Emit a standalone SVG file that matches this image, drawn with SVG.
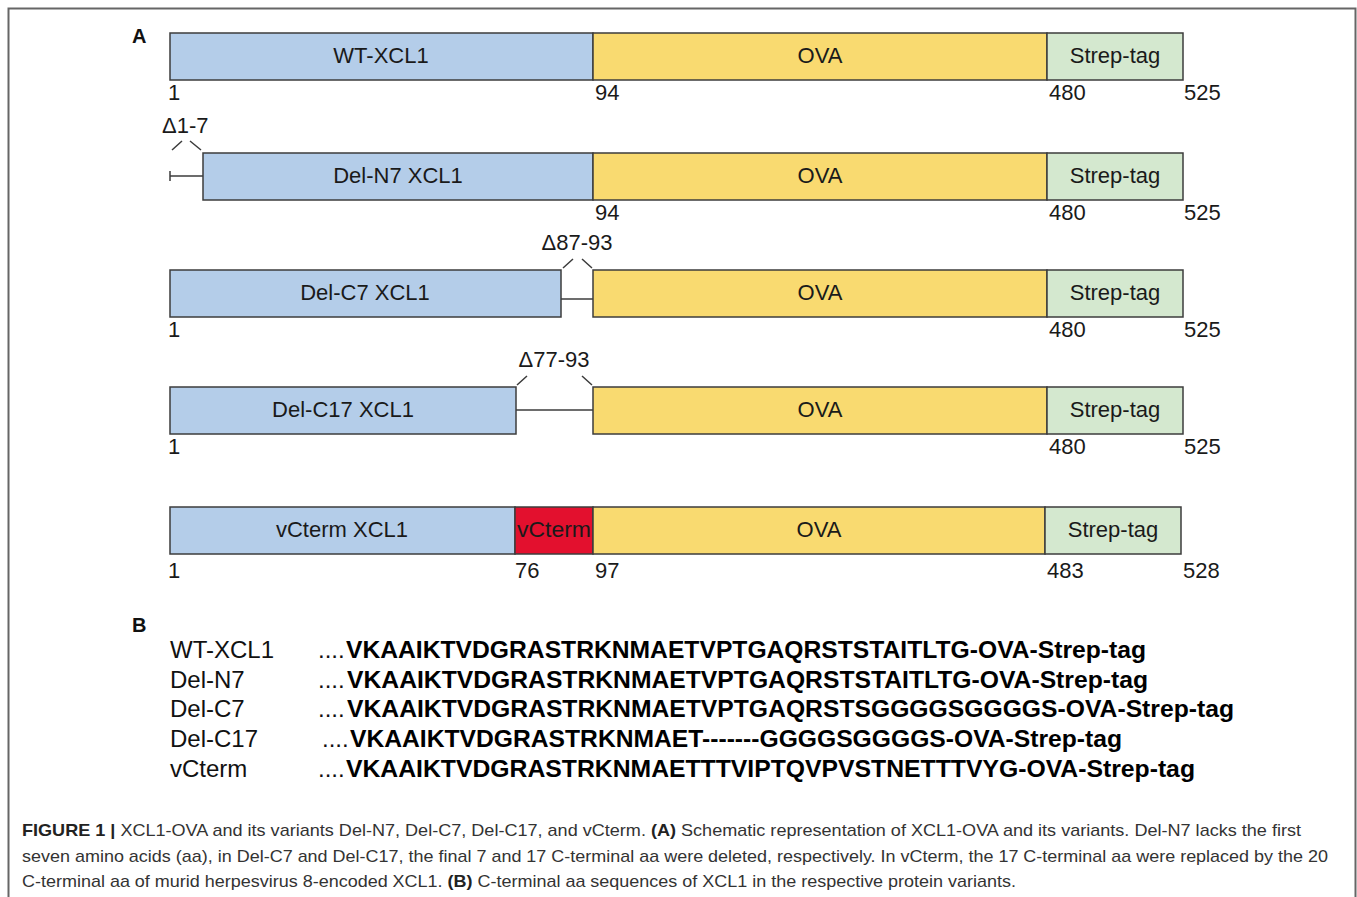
<svg xmlns="http://www.w3.org/2000/svg" width="1357" height="897" viewBox="0 0 1357 897">
<style>
.b{fill:#b4cde9;stroke:#3c3c3c;stroke-width:1.5}
.y{fill:#f9da70;stroke:#3c3c3c;stroke-width:1.5}
.g{fill:#d4e8cf;stroke:#3c3c3c;stroke-width:1.5}
.r{fill:#e3102e;stroke:#3c3c3c;stroke-width:1.5}
.t{font-family:"Liberation Sans",Arial,sans-serif;font-size:22px;fill:#1a1a1a}
.m{text-anchor:middle}
.ln{stroke:#3c3c3c;stroke-width:1.5;fill:none}
.h{font-family:"Liberation Sans",Arial,sans-serif;font-size:20px;font-weight:bold;fill:#111}
.n{font-family:"Liberation Sans",Arial,sans-serif;font-size:24px;fill:#111}
.s{font-family:"Liberation Sans",Arial,sans-serif;font-size:24px;font-weight:bold;fill:#000}
.c{font-family:"Liberation Sans",Arial,sans-serif;font-size:17px;fill:#333}
</style>
<rect x="0" y="0" width="1357" height="897" fill="#fff"/>
<path d="M8.5 897 V8.5 H1355.5 V897" fill="none" stroke="#666" stroke-width="2"/>
<text class="h" x="132" y="43">A</text>
<g id="wt">
<rect class="b" x="170" y="33" width="423" height="47"/>
<rect class="y" x="593" y="33" width="454" height="47"/>
<rect class="g" x="1047" y="33" width="136" height="47"/>
<text class="t m" x="381" y="63">WT-XCL1</text>
<text class="t m" x="820" y="63">OVA</text>
<text class="t m" x="1115" y="63">Strep-tag</text>
<text class="t" x="168" y="100">1</text>
<text class="t" x="595" y="100">94</text>
<text class="t" x="1049" y="100">480</text>
<text class="t" x="1184" y="100">525</text>
</g>
<g id="deln7">
<rect class="b" x="203" y="153" width="390" height="47"/>
<rect class="y" x="593" y="153" width="454" height="47"/>
<rect class="g" x="1047" y="153" width="136" height="47"/>
<text class="t m" x="398" y="183">Del-N7 XCL1</text>
<text class="t m" x="820" y="183">OVA</text>
<text class="t m" x="1115" y="183">Strep-tag</text>
<text class="t" x="162" y="133">Δ1-7</text>
<text class="t" x="595" y="220">94</text>
<text class="t" x="1049" y="220">480</text>
<text class="t" x="1184" y="220">525</text>
</g>
<g id="delc7">
<rect class="b" x="170" y="270" width="391" height="47"/>
<rect class="y" x="593" y="270" width="454" height="47"/>
<rect class="g" x="1047" y="270" width="136" height="47"/>
<text class="t m" x="365" y="300">Del-C7 XCL1</text>
<text class="t m" x="820" y="300">OVA</text>
<text class="t m" x="1115" y="300">Strep-tag</text>
<text class="t m" x="577" y="250">Δ87-93</text>
<text class="t" x="168" y="337">1</text>
<text class="t" x="1049" y="337">480</text>
<text class="t" x="1184" y="337">525</text>
</g>
<g id="delc17">
<rect class="b" x="170" y="387" width="346" height="47"/>
<rect class="y" x="593" y="387" width="454" height="47"/>
<rect class="g" x="1047" y="387" width="136" height="47"/>
<text class="t m" x="343" y="417">Del-C17 XCL1</text>
<text class="t m" x="820" y="417">OVA</text>
<text class="t m" x="1115" y="417">Strep-tag</text>
<text class="t m" x="554" y="367">Δ77-93</text>
<text class="t" x="168" y="454">1</text>
<text class="t" x="1049" y="454">480</text>
<text class="t" x="1184" y="454">525</text>
</g>
<g id="vcterm">
<rect class="b" x="170" y="507" width="345" height="47"/>
<rect class="r" x="515" y="507" width="78" height="47"/>
<rect class="y" x="593" y="507" width="452" height="47"/>
<rect class="g" x="1045" y="507" width="136" height="47"/>
<text class="t m" x="342" y="537">vCterm XCL1</text>
<text class="t m" x="554" y="537" textLength="74" lengthAdjust="spacingAndGlyphs">vCterm</text>
<text class="t m" x="819" y="537">OVA</text>
<text class="t m" x="1113" y="537">Strep-tag</text>
<text class="t" x="168" y="578">1</text>
<text class="t" x="515" y="578">76</text>
<text class="t" x="595" y="578">97</text>
<text class="t" x="1047" y="578">483</text>
<text class="t" x="1183" y="578">528</text>
</g>
<g id="connectors">
<path class="ln" d="M170 176 H203 M170 171 V181"/>
<path class="ln" d="M172 150 L182 141 M190 141 L201 150"/>
<path class="ln" d="M561 299 H593"/>
<path class="ln" d="M563 268 L573 259 M582 259 L592 268"/>
<path class="ln" d="M516 410 H593"/>
<path class="ln" d="M517 385 L527 376 M582 376 L592 385"/>
</g>
<g id="seq">
<text class="h" x="132" y="632">B</text>
<text class="n" x="170" y="658">WT-XCL1</text>
<text class="n" x="170" y="688">Del-N7</text>
<text class="n" x="170" y="717">Del-C7</text>
<text class="n" x="170" y="747">Del-C17</text>
<text class="n" x="170" y="777">vCterm</text>
<text class="n" x="318" y="658">....</text>
<text class="n" x="318" y="688">....</text>
<text class="n" x="318" y="717">....</text>
<text class="n" x="322" y="747">....</text>
<text class="n" x="318" y="777">....</text>
<text class="s" x="346" y="658" textLength="800" lengthAdjust="spacingAndGlyphs">VKAAIKTVDGRASTRKNMAETVPTGAQRSTSTAITLTG-OVA-Strep-tag</text>
<text class="s" x="347" y="688" textLength="801" lengthAdjust="spacingAndGlyphs">VKAAIKTVDGRASTRKNMAETVPTGAQRSTSTAITLTG-OVA-Strep-tag</text>
<text class="s" x="347" y="717" textLength="887" lengthAdjust="spacingAndGlyphs">VKAAIKTVDGRASTRKNMAETVPTGAQRSTSGGGGSGGGGS-OVA-Strep-tag</text>
<text class="s" x="350" y="747" textLength="772" lengthAdjust="spacingAndGlyphs">VKAAIKTVDGRASTRKNMAET-------GGGGSGGGGS-OVA-Strep-tag</text>
<text class="s" x="346" y="777" textLength="849" lengthAdjust="spacingAndGlyphs">VKAAIKTVDGRASTRKNMAETTTVIPTQVPVSTNETTTVYG-OVA-Strep-tag</text>
</g>
<g id="caption">
<text class="c" x="22" y="836" textLength="1279" lengthAdjust="spacingAndGlyphs"><tspan font-weight="bold" fill="#222">FIGURE 1 |</tspan> XCL1-OVA and its variants Del-N7, Del-C7, Del-C17, and vCterm. <tspan font-weight="bold" fill="#222">(A)</tspan> Schematic representation of XCL1-OVA and its variants. Del-N7 lacks the first</text>
<text class="c" x="22" y="862" textLength="1306" lengthAdjust="spacingAndGlyphs">seven amino acids (aa), in Del-C7 and Del-C17, the final 7 and 17 C-terminal aa were deleted, respectively. In vCterm, the 17 C-terminal aa were replaced by the 20</text>
<text class="c" x="22" y="887" textLength="994" lengthAdjust="spacingAndGlyphs">C-terminal aa of murid herpesvirus 8-encoded XCL1. <tspan font-weight="bold" fill="#222">(B)</tspan> C-terminal aa sequences of XCL1 in the respective protein variants.</text>
</g>
</svg>
